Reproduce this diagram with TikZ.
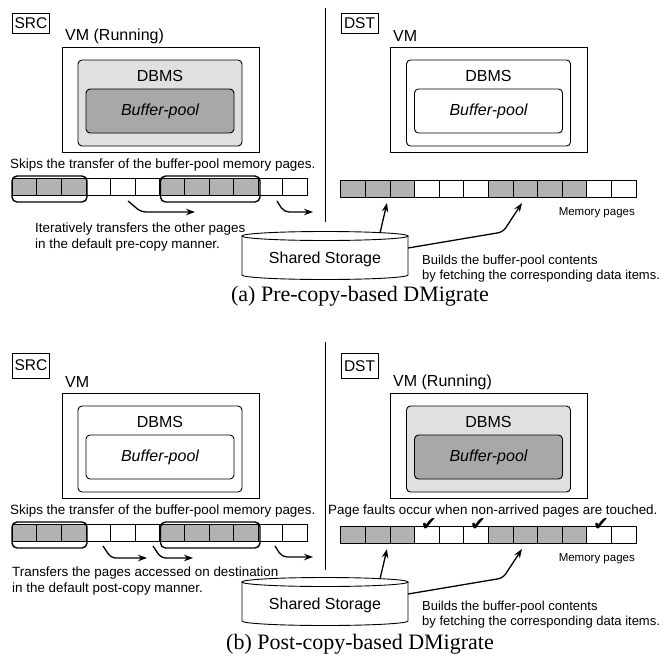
\documentclass[tikz,border=0pt]{standalone}
\usepackage{fontspec}
\setmainfont{Liberation Sans}
\newfontfamily\capfont{Liberation Serif}
\newfontfamily\symfont{DejaVu Sans}
\usepackage{tikz}
\usetikzlibrary{arrows.meta, positioning}

\definecolor{dbfill}{gray}{0.88}
\definecolor{bpfill}{gray}{0.66}
\definecolor{pagefill}{gray}{0.70}

\tikzset{
  tag/.style={draw, line width=0.8pt, font=\fontsize{15.5}{17}\selectfont, inner sep=0pt, minimum width=37pt, minimum height=20pt},
  big/.style={font=\fontsize{16}{18}\selectfont, inner sep=0pt},
  note/.style={font=\fontsize{13.4}{16}\selectfont, inner sep=0pt, align=left},
  small/.style={font=\fontsize{11.5}{13}\selectfont, inner sep=0pt},
  vmbox/.style={draw, line width=0.9pt, minimum width=197pt, minimum height=105pt},
  dbbox/.style={draw, line width=0.9pt, rounded corners=4pt, minimum width=164pt, minimum height=86pt},
  bpbox/.style={draw, line width=0.9pt, rounded corners=4pt, minimum width=148pt, minimum height=44pt, font=\fontsize{16}{18}\selectfont\itshape},
  page/.style={draw, line width=0.9pt, minimum width=24.6pt, minimum height=17pt, inner sep=0pt},
  group/.style={draw, line width=1.4pt, rounded corners=5pt},
  move/.style={-{Stealth[length=9pt,width=6.5pt]}, line width=1.3pt, rounded corners=5pt},
  tickmark/.style={font=\symfont\fontsize{19}{19}\selectfont, inner sep=0pt},
  caption/.style={font=\capfont\fontsize{22}{24}\selectfont, inner sep=0pt}
}

\begin{document}
\begin{tikzpicture}[x=1pt,y=-1pt]
    \useasboundingbox (0,0) rectangle (671,664);

    % ===== (a) Pre-copy =====
    % Source host on the left
    \node[tag] (srcA) at (31,23) {SRC};
    \node[big, anchor=west] at (65,36) {VM (Running)};
    \node[vmbox] (vmA) at (160.5,99.5) {};
    \node[dbbox, fill=dbfill] (dbA) at (160,103) {};
    \node[big] (dbtxtA) at (160,76) {DBMS};
    \node[bpbox, fill=bpfill] (bpA) at (160,111) {Buffer-pool};
    \node[note, anchor=west] at (10,165) {Skips the transfer of the buffer-pool memory pages.};

    \foreach \i in {1,2,3,7,8,9,10}
        \node[page, fill=pagefill] (pA\i) at (24.6*\i,186.5) {};
    \foreach \i in {4,5,6,11,12}
        \node[page] (pA\i) at (24.6*\i,186.5) {};
    \draw[group] (12,176) rectangle (87,202);
    \draw[group] (160.5,176) rectangle (260,202);

    \coordinate (s1A) at (128,201);
    \coordinate (e1A) at (195,212);
    \coordinate (s2A) at (277,201);
    \coordinate (e2A) at (313,212);
    \draw[move] (s1A) -- (141,212) -- (e1A);
    \draw[move] (s2A) -- (284,212) -- (e2A);
    \node[note, anchor=west] at (35,237) {Iteratively transfers the other pages\\in the default pre-copy manner.};

    % Divider
    \draw[line width=0.9pt] (325,8) -- (325,222);

    % Destination host on the right
    \node[tag] (dstA) at (359.5,23) {DST};
    \node[big, anchor=west] at (393,36) {VM};
    \node[vmbox] (vm2A) at (489,99.5) {};
    \node[dbbox] (db2A) at (488.5,103) {};
    \node[big] (db2txtA) at (488.5,76) {DBMS};
    \node[bpbox] (bp2A) at (488.5,111) {Buffer-pool};

    \foreach \i in {1,2,3,7,8,9,10}
        \node[page, fill=pagefill] (qA\i) at (328.5+24.6*\i,188.5) {};
    \foreach \i in {4,5,6,11,12}
        \node[page] (qA\i) at (328.5+24.6*\i,188.5) {};
    \node[small, anchor=east] (memA) at (635,213) {Memory pages};

    % Shared storage
    \draw[line width=0.9pt, fill=white] (242,236) -- (242,275)
        arc[start angle=180, end angle=360, x radius=83pt, y radius=4.5pt] -- (408,236);
    \draw[line width=0.9pt] (325,236) ellipse [x radius=83pt, y radius=4.5pt];
    \node[big] (storeA) at (325,259) {Shared Storage};

    \coordinate (f1A) at (380,233);
    \coordinate (t1A) at (387,203);
    \coordinate (f2A) at (408,248);
    \coordinate (t2A) at (522,203);
    \draw[move] (f1A) -- (t1A);
    \draw[move] (f2A) -- (503,232) -- (t2A);
    \node[note, anchor=west, font=\fontsize{13}{15}\selectfont] at (422,269) {Builds the buffer-pool contents\\by fetching the corresponding data items.};

    \node[caption] (capA) at (360,296) {(a) Pre-copy-based DMigrate};

    % ===== (b) Post-copy =====
    \begin{scope}[yshift=-346pt]
        % Source host on the left
        \node[tag, minimum height=25pt] (srcB) at (31,19.5) {SRC};
        \node[big, anchor=west] at (65,36) {VM};
        \node[vmbox] (vmB) at (160.5,99.5) {};
        \node[dbbox] (dbB) at (160,103) {};
        \node[big] (dbtxtB) at (160,76) {DBMS};
        \node[bpbox] (bpB) at (160,111) {Buffer-pool};
        \node[note, anchor=west] at (10,165) {Skips the transfer of the buffer-pool memory pages.};

        \foreach \i in {1,2,3,7,8,9,10}
            \node[page, fill=pagefill] (pB\i) at (24.6*\i,186.5) {};
        \foreach \i in {4,5,6,11,12}
            \node[page] (pB\i) at (24.6*\i,186.5) {};
        \draw[group] (12,176) rectangle (87,202);
        \draw[group] (160.5,176) rectangle (260,202);

        \coordinate (s1B) at (103,200);
        \coordinate (e1B) at (147,212);
        \coordinate (s2B) at (153,200);
        \coordinate (e2B) at (193,212);
        \coordinate (s3B) at (275,200);
        \coordinate (e3B) at (313,211);
        \draw[move] (s1B) -- (111,212) -- (e1B);
        \draw[move] (s2B) -- (161,212) -- (e2B);
        \draw[move] (s3B) -- (282,211) -- (e3B);
        \node[note, anchor=west] at (12,235) {Transfers the pages accessed on destination\\in the default post-copy manner.};

        % Divider
        \draw[line width=0.9pt] (325,-4) -- (325,224);

        % Destination host on the right
        \node[tag, minimum height=25pt] (dstB) at (359.5,20) {DST};
        \node[big, anchor=west] at (393,36) {VM (Running)};
        \node[vmbox] (vm2B) at (489,99.5) {};
        \node[dbbox, fill=dbfill] (db2B) at (488.5,103) {};
        \node[big] (db2txtB) at (488.5,76) {DBMS};
        \node[bpbox, fill=bpfill] (bp2B) at (488.5,111) {Buffer-pool};
        \node[note, anchor=west] at (328,165) {Page faults occur when non-arrived pages are touched.};

        \foreach \i in {1,2,3,7,8,9,10}
            \node[page, fill=pagefill] (qB\i) at (328.5+24.6*\i,188.5) {};
        \foreach \i in {4,5,6,11,12}
            \node[page] (qB\i) at (328.5+24.6*\i,188.5) {};
        \foreach \i in {4,6,11}
            \node[tickmark, above=-5pt of qB\i, xshift=2pt] (ck\i) {✔};
        \node[small, anchor=east] (memB) at (635,213) {Memory pages};

        % Shared storage
        \draw[line width=0.9pt, fill=white] (242,236) -- (242,275)
            arc[start angle=180, end angle=360, x radius=83pt, y radius=4.5pt] -- (408,236);
        \draw[line width=0.9pt] (325,236) ellipse [x radius=83pt, y radius=4.5pt];
        \node[big] (storeB) at (325,259) {Shared Storage};

        \coordinate (f1B) at (380,233);
        \coordinate (t1B) at (387,203);
        \coordinate (f2B) at (408,248);
        \coordinate (t2B) at (522,203);
        \draw[move] (f1B) -- (t1B);
        \draw[move] (f2B) -- (503,232) -- (t2B);
        \node[note, anchor=west, font=\fontsize{13}{15}\selectfont] at (422,269) {Builds the buffer-pool contents\\by fetching the corresponding data items.};

        \node[caption] (capB) at (360,298) {(b) Post-copy-based DMigrate};
    \end{scope}

\end{tikzpicture}
\end{document}
